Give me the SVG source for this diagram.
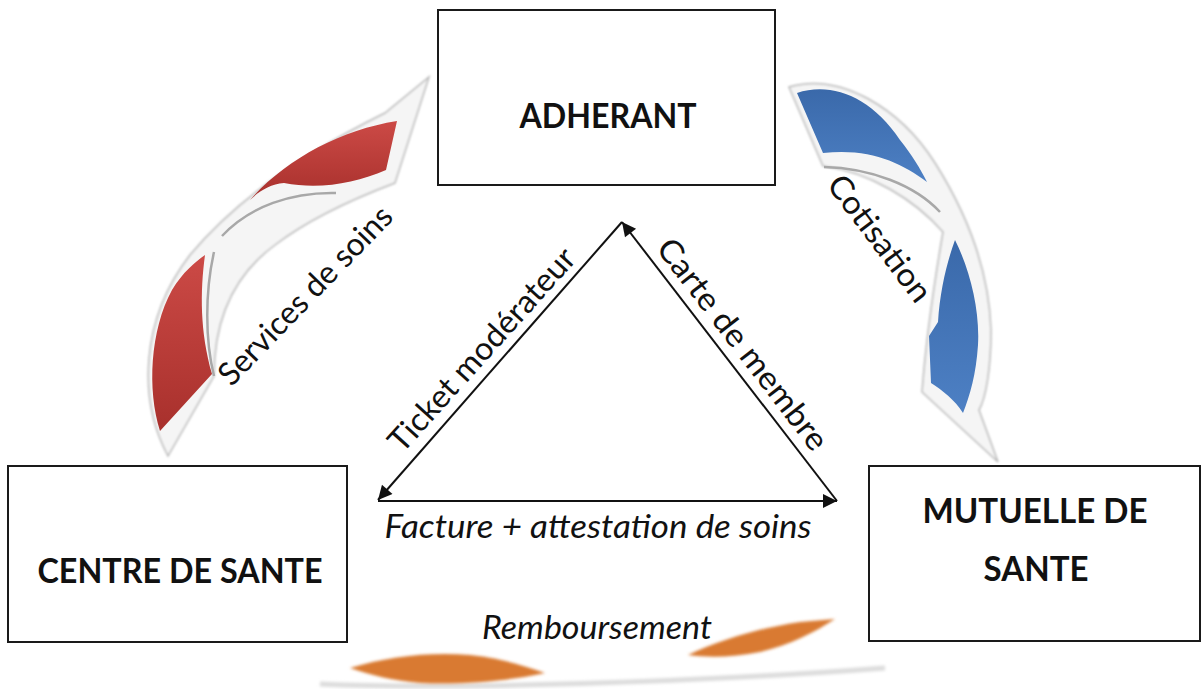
<svg xmlns="http://www.w3.org/2000/svg" width="1201" height="689" viewBox="0 0 1201 689">
<style>
.box{fill:#fff;stroke:#1a1a1a;stroke-width:2}
.bt{font-family:Lato,"Liberation Sans",sans-serif;font-weight:bold;font-size:34px;fill:#111;text-anchor:middle}
.lb{font-family:Lato,"Liberation Sans",sans-serif;font-size:32px;fill:#111;text-anchor:middle}
.it{font-style:italic}
.conn{stroke:#111;stroke-width:2;fill:none}
.sil{fill:#f5f5f5;stroke:#b8b8b8;stroke-width:1.5}
.edge{fill:none;stroke:#a8a8a8;stroke-width:2.5}
</style>
<defs>
<marker id="ah" viewBox="0 0 10 10" refX="10" refY="5" markerWidth="18" markerHeight="14" orient="auto" markerUnits="userSpaceOnUse">
<path d="M0,0 L10,5 L0,10 Z" fill="#111"/>
</marker>
<linearGradient id="red" x1="0" y1="0" x2="0" y2="1">
<stop offset="0" stop-color="#cc4a46"/>
<stop offset="1" stop-color="#a8302c"/>
</linearGradient>
<linearGradient id="blue" x1="0" y1="0" x2="0" y2="1">
<stop offset="0" stop-color="#3a69aa"/>
<stop offset="1" stop-color="#4d80c4"/>
</linearGradient>
<filter id="blur" x="-10%" y="-50%" width="120%" height="200%">
<feGaussianBlur stdDeviation="1.8"/>
</filter>
<filter id="soft" x="-10%" y="-10%" width="120%" height="120%">
<feGaussianBlur stdDeviation="0.8"/>
</filter>
</defs>

<g id="arrow-services">
<path class="sil" filter="url(#soft)" d="M168,456 C138,400 140,320 190,255 C240,195 310,150 385,113 L429,77 L395,183 C350,200 305,222 275,245 C238,272 214,312 214,376 Z"/>
<path fill="url(#red)" d="M160,431 C147,390 150,330 172,290 C183,272 195,262 205,255 C200,292 200,332 212,374 Z"/>
<path fill="url(#red)" d="M250,200 C285,160 340,130 397,121 L386,170 C355,183 320,190 284,183 C270,184 258,192 250,200 Z"/>
<path class="edge" d="M214,252 C205,292 205,340 214,376"/>
<path class="edge" d="M222,236 C250,206 292,192 336,193"/>
<text class="lb" transform="translate(313,303) rotate(-46)" textLength="235" lengthAdjust="spacingAndGlyphs">Services de soins</text>
</g>

<g id="arrow-cotisation">
<path class="sil" filter="url(#soft)" d="M789,87 C840,72 900,108 935,163 C966,212 989,270 991,330 C991,368 986,398 979,410 L998,462 L922,392 C926,340 933,290 943,232 C915,200 870,172 823,166 Z"/>
<path fill="url(#blue)" d="M797,93 C830,82 870,95 900,140 C912,155 920,168 927,182 C900,162 870,148 823,153 Z"/>
<path fill="url(#blue)" d="M955,240 C970,270 980,310 978,345 C976,375 970,395 963,413 C955,400 942,390 931,383 L929,336 L938,322 C940,290 947,262 955,240 Z"/>
<path class="edge" d="M824,167 C870,168 915,185 940,212"/>
<text class="lb" transform="translate(871,245) rotate(53)" textLength="150" lengthAdjust="spacingAndGlyphs">Cotisation</text>
</g>

<g id="arrow-remboursement">
<path d="M320,684 C450,690 700,682 885,668" fill="none" stroke="#dcdcdc" stroke-width="5" filter="url(#blur)"/>
<path d="M350,668 C390,656 430,652 470,655 C500,658 525,666 545,673 C510,681 460,685 420,683 C395,681 370,675 350,668 Z" fill="#d97a30" filter="url(#blur)"/>
<path d="M688,655 C720,640 760,628 800,622 L835,619 C815,632 790,645 760,652 C735,657 710,658 688,655 Z" fill="#d97a30" filter="url(#blur)"/>
<text class="lb it" x="597" y="639" textLength="230" lengthAdjust="spacingAndGlyphs">Remboursement</text>
</g>

<g id="node-adherant">
<rect class="box" x="438" y="10" width="337" height="175"/>
<text class="bt" x="608" y="128" textLength="177" lengthAdjust="spacingAndGlyphs">ADHERANT</text>
</g>

<g id="node-centre">
<rect class="box" x="8" y="466" width="339" height="176"/>
<text class="bt" x="180" y="583" textLength="285" lengthAdjust="spacingAndGlyphs">CENTRE DE SANTE</text>
</g>

<g id="node-mutuelle">
<rect class="box" x="869" y="466" width="331" height="175"/>
<text class="bt" x="1035" y="523" textLength="225" lengthAdjust="spacingAndGlyphs">MUTUELLE DE</text>
<text class="bt" x="1036" y="581" textLength="105" lengthAdjust="spacingAndGlyphs">SANTE</text>
</g>

<g id="connectors">
<line class="conn" x1="622" y1="222" x2="378" y2="500" marker-end="url(#ah)"/>
<line class="conn" x1="378" y1="501" x2="837" y2="501" marker-end="url(#ah)"/>
<line class="conn" x1="837" y1="501" x2="622" y2="222" marker-end="url(#ah)"/>
<text class="lb" transform="translate(490,357) rotate(-48)" textLength="262" lengthAdjust="spacingAndGlyphs">Ticket modérateur</text>
<text class="lb" transform="translate(734,351) rotate(52.4)" textLength="258" lengthAdjust="spacingAndGlyphs">Carte de membre</text>
<text class="lb it" x="598" y="538" textLength="427" lengthAdjust="spacingAndGlyphs">Facture + attestation de soins</text>
</g>
</svg>
